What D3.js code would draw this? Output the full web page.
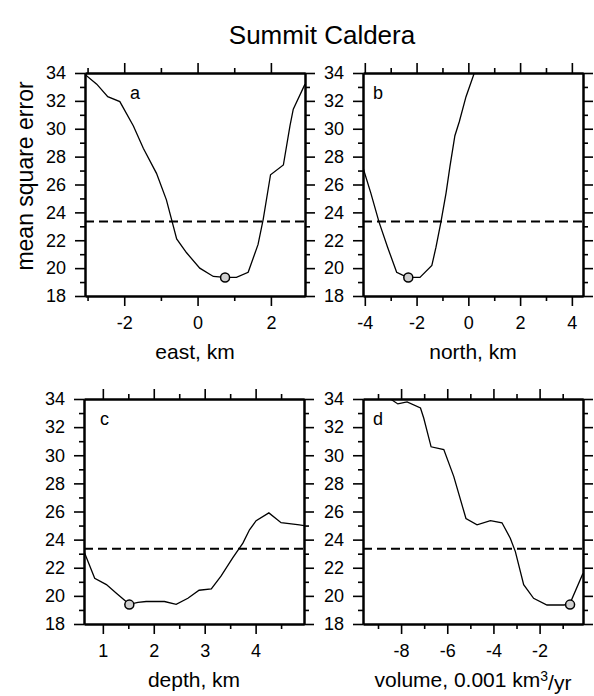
<!DOCTYPE html>
<html>
<head>
<meta charset="utf-8">
<script src="https://cdn.jsdelivr.net/npm/d3@7"></script>
<style>
  body { margin: 0; background: #fff; }
  svg text { font-family: "Liberation Sans", Arial, Helvetica, sans-serif; fill: #000; }
</style>
</head>
<body>
<svg id="chart" width="594" height="696"></svg>
<script>
// data
var misfitLevel = 23.35;
var yTicks = [18, 20, 22, 24, 26, 28, 30, 32, 34];
var yMinor = [19, 21, 23, 25, 27, 29, 31, 33];

var eastX = [-3.07, -2.75, -2.45, -2.12, -1.75, -1.48, -1.12, -0.85, -0.71, -0.57, -0.3, 0.06, 0.43, 0.75, 1.06, 1.38, 1.65, 1.79, 1.99, 2.34, 2.52, 2.61, 2.93];
var eastY = [33.9, 33.2, 32.3, 31.95, 30.2, 28.6, 26.8, 24.9, 23.5, 22.1, 21.1, 20.0, 19.4, 19.33, 19.33, 19.7, 21.7, 23.5, 26.7, 27.4, 30.2, 31.4, 33.2];
var eastBest = [0.75, 19.33];

var northX = [-4.07, -3.77, -3.45, -3.12, -2.77, -2.54, -2.32, -1.87, -1.41, -1.25, -1.06, -0.86, -0.71, -0.52, -0.35, -0.09, 0.23];
var northY = [27.2, 25.4, 23.3, 21.5, 19.7, 19.5, 19.33, 19.33, 20.2, 21.5, 23.3, 25.4, 27.3, 29.5, 30.5, 32.3, 34.0];
var northBest = [-2.32, 19.33];

var depthX = [0.63, 0.84, 1.07, 1.26, 1.52, 1.69, 1.85, 2.21, 2.44, 2.67, 2.89, 3.13, 3.32, 3.55, 3.75, 3.88, 4.01, 4.26, 4.5, 4.86, 4.95];
var depthY = [23.15, 21.25, 20.8, 20.2, 19.4, 19.54, 19.6, 19.6, 19.4, 19.83, 20.4, 20.5, 21.4, 22.7, 23.75, 24.7, 25.35, 25.9, 25.2, 25.05, 25.0];
var depthBest = [1.52, 19.38];

var volX = [-8.46, -8.14, -7.74, -7.16, -7.02, -6.7, -6.15, -5.72, -5.19, -4.71, -4.13, -3.63, -3.27, -3.05, -2.69, -2.26, -1.68, -0.96, -0.7, -0.12];
var volY = [34.0, 33.65, 33.8, 33.36, 32.65, 30.6, 30.4, 28.5, 25.5, 25.05, 25.35, 25.2, 24.1, 23.15, 20.8, 19.83, 19.35, 19.35, 19.4, 21.6];
var volBest = [-0.68, 19.38];

var panelLetters = ["a", "b", "c", "d"];
var xLabels = ["east, km", "north, km", "depth, km", "volume, 0.001 km"];
var xMajor = [[-2, 0, 2], [-4, -2, 0, 2, 4], [1, 2, 3, 4], [-8, -6, -4, -2]];
var xMinor = [[-3, -1, 1], [-3, -1, 1, 3], [1.5, 2.5, 3.5, 4.5], [-9, -7, -5, -3, -1]];
var xDomains = [[-3.07, 2.93], [-4.07, 4.43], [0.63, 4.95], [-9.65, -0.12]];

var series = [
  {x: eastX, y: eastY, best: eastBest},
  {x: northX, y: northY, best: northBest},
  {x: depthX, y: depthY, best: depthBest},
  {x: volX, y: volY, best: volBest}
];

// layout
var boxes = [
  {left: 85, right: 305, top: 73, bottom: 296, letterX: 130},
  {left: 363, right: 583, top: 73, bottom: 296, letterX: 373},
  {left: 84, right: 304, top: 399, bottom: 624, letterX: 100},
  {left: 363, right: 583, top: 399, bottom: 624, letterX: 373}
];

var svg = d3.select("#chart");

svg.append("text")
    .attr("x", 322)
    .attr("y", 44)
    .attr("text-anchor", "middle")
    .style("font-size", "26px")
    .text("Summit Caldera");

svg.append("text")
    .attr("transform", "translate(33,176) rotate(-90)")
    .attr("text-anchor", "middle")
    .style("font-size", "23px")
    .text("mean square error");

boxes.forEach(function(b, i) {
    var s = series[i];
    var x = d3.scaleLinear().domain(xDomains[i]).range([b.left, b.right]);
    var y = d3.scaleLinear().domain([18, 34]).range([b.bottom, b.top]);
    var g = svg.append("g");

    g.append("clipPath").attr("id", "clip" + i)
      .append("rect")
        .attr("x", b.left).attr("y", b.top)
        .attr("width", b.right - b.left).attr("height", b.bottom - b.top);

    // minor ticks (no labels)
    g.append("g").attr("transform", "translate(0," + b.bottom + ")")
        .call(d3.axisBottom(x).tickValues(xMinor[i]).tickSize(5).tickSizeOuter(0).tickFormat(""));
    g.append("g").attr("transform", "translate(0," + b.top + ")")
        .call(d3.axisTop(x).tickValues(xMinor[i]).tickSize(5).tickSizeOuter(0).tickFormat(""));
    g.append("g").attr("transform", "translate(" + b.left + ",0)")
        .call(d3.axisLeft(y).tickValues(yMinor).tickSize(5).tickSizeOuter(0).tickFormat(""));
    g.append("g").attr("transform", "translate(" + b.right + ",0)")
        .call(d3.axisRight(y).tickValues(yMinor).tickSize(5).tickSizeOuter(0).tickFormat(""));

    // major ticks
    var bottomAxis = g.append("g").attr("transform", "translate(0," + b.bottom + ")")
        .call(d3.axisBottom(x).tickValues(xMajor[i]).tickSize(10).tickSizeOuter(0).tickPadding(10).tickFormat(d3.format("d")));
    g.append("g").attr("transform", "translate(0," + b.top + ")")
        .call(d3.axisTop(x).tickValues(xMajor[i]).tickSize(10).tickSizeOuter(0).tickFormat(""));
    g.append("g").attr("transform", "translate(" + b.left + ",0)")
        .call(d3.axisLeft(y).tickValues(yTicks).tickSize(10).tickSizeOuter(0).tickPadding(9));
    g.append("g").attr("transform", "translate(" + b.right + ",0)")
        .call(d3.axisRight(y).tickValues(yTicks).tickSize(10).tickSizeOuter(0).tickFormat(""));

    g.selectAll(".tick text").style("font-size", "18px").attr("font-family", null);
    bottomAxis.selectAll(".tick text").attr("dy", "0.71em");
    g.selectAll(".tick line").attr("stroke", "#000").attr("stroke-width", 1.6);
    g.selectAll(".domain").attr("stroke", "#000").attr("stroke-width", 2);
    // minus sign as a plain hyphen, like the original
    g.selectAll(".tick text").text(function() { return d3.select(this).text().replace("\u2212", "-"); });

    // misfit threshold
    g.append("line")
        .attr("x1", b.left).attr("x2", b.right)
        .attr("y1", y(misfitLevel)).attr("y2", y(misfitLevel))
        .attr("stroke", "#000")
        .attr("stroke-width", 2)
        .attr("stroke-dasharray", "9,5");

    var line = d3.line().x(function(d) { return x(d[0]); }).y(function(d) { return y(d[1]); });
    g.append("path")
        .datum(d3.zip(s.x, s.y))
        .attr("clip-path", "url(#clip" + i + ")")
        .attr("fill", "none")
        .attr("stroke", "#000")
        .attr("stroke-width", 1.3)
        .attr("d", line);

    g.append("circle")
        .attr("cx", x(s.best[0]))
        .attr("cy", y(s.best[1]))
        .attr("r", 4.5)
        .attr("fill", "#d0d0d0")
        .attr("stroke", "#000")
        .attr("stroke-width", 1.5);

    g.append("text")
        .attr("x", b.letterX)
        .attr("y", b.top + 26)
        .style("font-size", "18px")
        .text(panelLetters[i]);

    var lab = g.append("text")
        .attr("x", (b.left + b.right) / 2)
        .attr("y", b.bottom + 63)
        .attr("text-anchor", "middle")
        .style("font-size", "21px")
        .text(xLabels[i]);
    if (i === 3) {
        lab.append("tspan").attr("dy", "-0.45em").style("font-size", "14px").text("3");
        lab.append("tspan").attr("dy", "0.45em").text("/yr");
    }
});
</script>
</body>
</html>
